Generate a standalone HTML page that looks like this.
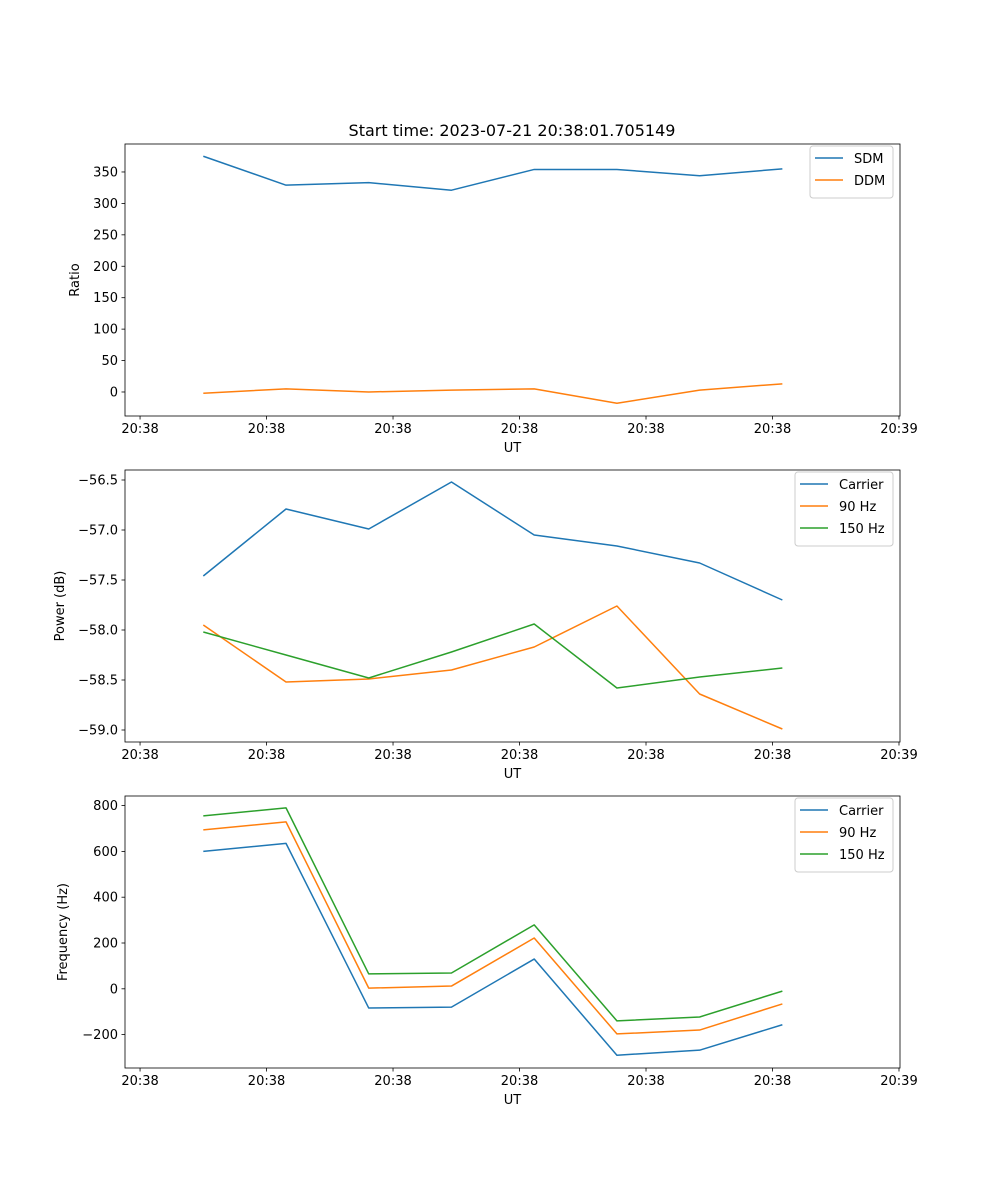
<!DOCTYPE html>
<html><head><meta charset="utf-8">
<style>
html,body{margin:0;padding:0;background:#fff;}
svg{display:block;font-family:"DejaVu Sans","Liberation Sans",sans-serif;}
</style></head>
<body>
<svg id="fig" width="1000" height="1200" viewBox="0 0 1000 1200" xmlns="http://www.w3.org/2000/svg">
<rect width="1000" height="1200" fill="#fff"/>
<text x="512" y="136" font-size="16" text-anchor="middle">Start time: 2023-07-21 20:38:01.705149</text>
</svg>
<script>
// time positions (seconds from start)
const times = [0.5, 1.154, 1.808, 2.462, 3.116, 3.770, 4.424, 5.078];
const xTickVals = [0, 1, 2, 3, 4, 5, 6];
const xTickLabels = ["20:38","20:38","20:38","20:38","20:38","20:38","20:39"];

const sdm = [375, 329, 333, 321, 354, 354, 344, 355];
const ddm = [-2, 5, 0, 3, 5, -18, 3, 13];
const ratioTicks = [0, 50, 100, 150, 200, 250, 300, 350];

const pCarrier = [-57.46, -56.79, -56.99, -56.52, -57.05, -57.16, -57.33, -57.70];
const p90 = [-57.95, -58.52, -58.49, -58.40, -58.17, -57.76, -58.64, -58.99];
const p150 = [-58.02, -58.25, -58.48, -58.22, -57.94, -58.58, -58.47, -58.38];
const powerTicks = [-59.0, -58.5, -58.0, -57.5, -57.0, -56.5];
const powerTickLabels = ["\u221259.0","\u221258.5","\u221258.0","\u221257.5","\u221257.0","\u221256.5"];

const fCarrier = [600, 635, -84, -80, 130, -290, -268, -157];
const f90 = [694, 729, 3, 12, 222, -197, -180, -66];
const f150 = [755, 790, 65, 69, 279, -140, -123, -10];
const freqTicks = [-200, 0, 200, 400, 600, 800];
const freqTickLabels = ["\u2212200","0","200","400","600","800"];

const NS = "http://www.w3.org/2000/svg";
const svg = document.getElementById("fig");
const C1 = "#1f77b4", C2 = "#ff7f0e", C3 = "#2ca02c";
function el(tag, attrs, parent) {
  const e = document.createElementNS(NS, tag);
  for (const k in attrs) e.setAttribute(k, attrs[k]);
  (parent || svg).appendChild(e);
  return e;
}
const L = 125, R = 900, xMin = -0.119, xMax = 6.008;
function xs(v) { return L + (v - xMin) / (xMax - xMin) * (R - L); }

function axes(name, top, bottom, yMin, yMax, yTicks, yTickLabels, ylabel, ylx, series, legend) {
  const g = el("g", {});
  
  
  const ys = v => bottom - (v - yMin) / (yMax - yMin) * (bottom - top);
  series.forEach(s => {
    const pts = times.map((t, i) => xs(t).toFixed(2) + "," + ys(s.vals[i]).toFixed(2)).join(" ");
    const pl = el("polyline", {points: pts, fill: "none", stroke: s.color, "stroke-width": 1.5, "stroke-linejoin": "round"}, g);
    
    
  });
  const fr = el("rect", {x: L, y: top, width: R - L, height: bottom - top, fill: "none", stroke: "#000", "stroke-width": 0.8}, g);
  
  
  xTickVals.forEach((v, i) => {
    const x = xs(v);
    el("line", {x1: x, x2: x, y1: bottom, y2: bottom + 3.5, stroke: "#000", "stroke-width": 0.8}, g);
    const t = el("text", {x: x, y: bottom + 17, "font-size": 13, "text-anchor": "middle"}, g);
    t.textContent = xTickLabels[i];
    
    
  });
  const xl = el("text", {x: (L + R) / 2, y: bottom + 36, "font-size": 13, "text-anchor": "middle"}, g);
  xl.textContent = "UT";
  
  
  yTicks.forEach((v, i) => {
    const y = ys(v);
    el("line", {x1: L - 3.5, x2: L, y1: y, y2: y, stroke: "#000", "stroke-width": 0.8}, g);
    const t = el("text", {x: L - 7, y: y + 4.5, "font-size": 13, "text-anchor": "end"}, g);
    t.textContent = yTickLabels[i];
    
    
  });
  const cy = (top + bottom) / 2;
  const yl = el("text", {x: ylx, y: cy, "font-size": 13, "text-anchor": "middle", transform: `rotate(-90 ${ylx} ${cy})`}, g);
  yl.textContent = ylabel;
  
  
  const lg = el("g", {}, g);
  
  
  el("rect", {x: legend.x, y: top + 2, width: R - 7 - legend.x, height: 8 + series.length * 22, rx: 3, fill: "#fff", stroke: "#ccc", "stroke-width": 1, "fill-opacity": 0.8}, lg);
  series.forEach((s, i) => {
    const y = top + 14 + i * 22;
    el("line", {x1: legend.x + 5, x2: legend.x + 33, y1: y, y2: y, stroke: s.color, "stroke-width": 1.5}, lg);
    const t = el("text", {x: legend.x + 44, y: y + 5, "font-size": 13}, lg);
    t.textContent = s.label;
    
    
  });
}

axes("ratio-axes", 144, 416, -38.2, 394.5, ratioTicks, ratioTicks.map(String), "Ratio", 79,
  [{vals: sdm, color: C1, label: "SDM", name: "sdm-line"}, {vals: ddm, color: C2, label: "DDM", name: "ddm-line"}], {x: 810});
axes("power-axes", 470, 742, -59.12, -56.40, powerTicks, powerTickLabels, "Power (dB)", 64,
  [{vals: pCarrier, color: C1, label: "Carrier", name: "carrier-power-line"},
   {vals: p90, color: C2, label: "90 Hz", name: "90hz-power-line"},
   {vals: p150, color: C3, label: "150 Hz", name: "150hz-power-line"}], {x: 795});
axes("frequency-axes", 796, 1068, -345.8, 841.9, freqTicks, freqTickLabels, "Frequency (Hz)", 67,
  [{vals: fCarrier, color: C1, label: "Carrier", name: "carrier-frequency-line"},
   {vals: f90, color: C2, label: "90 Hz", name: "90hz-frequency-line"},
   {vals: f150, color: C3, label: "150 Hz", name: "150hz-frequency-line"}], {x: 795});
</script>
</body></html>
